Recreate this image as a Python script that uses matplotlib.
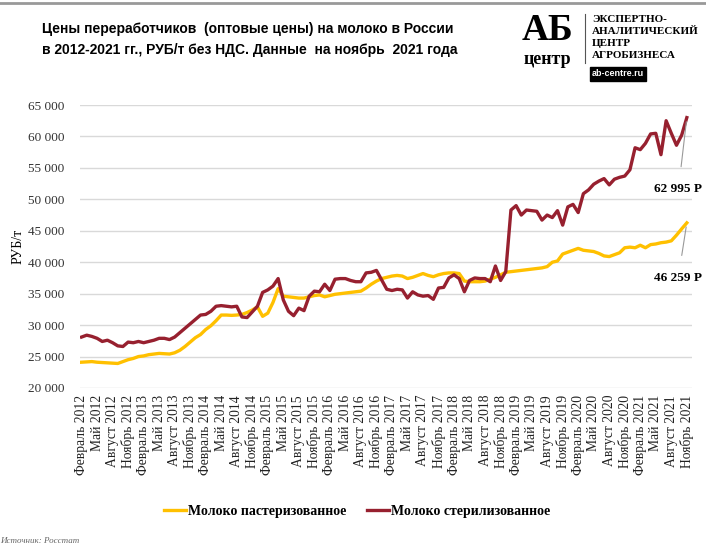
import numpy as np
import matplotlib.pyplot as plt
from matplotlib.patches import Rectangle

# цены, руб/т, февраль 2012 - ноябрь 2021 (по месяцам)
pasteurized = [
    24100, 24150, 24200, 24100, 24050, 24000, 23950, 23900, 24200, 24500, 24700,
    25000, 25100, 25300, 25400, 25500, 25450, 25400, 25600, 26000, 26600, 27300, 28000,
    28500, 29300, 29900, 30700, 31600, 31600, 31550, 31600, 31700, 32000, 32400, 32900,
    31400, 31900, 33600, 35800, 34600, 34500, 34400, 34300, 34300, 34500, 34700, 34800,
    34500, 34700, 34900, 35000, 35100, 35200, 35300, 35400, 35900, 36500, 37000, 37400,
    37600, 37800, 37900, 37800, 37400, 37600, 37900, 38200, 37900, 37700, 38000, 38200,
    38300, 38300, 38200, 37000, 36900, 36900, 36900, 37000, 37300, 37600, 38000, 38400,
    38500, 38600, 38700, 38800, 38900, 39000, 39100, 39300, 40000, 40200, 41300, 41600,
    41900, 42200, 41900, 41800, 41700, 41400, 41000, 40900, 41200, 41500, 42300, 42400,
    42300, 42700, 42300, 42800, 42900, 43100, 43200, 43400, 44300, 45300, 46259,
]
sterilized = [
    28100, 28400, 28200, 27900, 27400, 27600, 27200, 26700, 26600, 27300, 27200,
    27400, 27200, 27400, 27600, 27900, 27900, 27700, 28100, 28800, 29500, 30200, 30900,
    31600, 31700, 32200, 33000, 33100, 33000, 32900, 33000, 31300, 31200, 32100, 33000,
    35200, 35600, 36200, 37400, 34000, 32200, 31500, 32700, 32300, 34600, 35400, 35300,
    36500, 35500, 37300, 37400, 37400, 37100, 36900, 36900, 38300, 38400, 38700, 37200,
    35700, 35500, 35700, 35600, 34300, 35300, 34800, 34600, 34700, 34100, 35900, 36000,
    37500, 38000, 37400, 35300, 37100, 37500, 37400, 37400, 36900, 39400, 37100, 38500,
    48300, 49000, 47500, 48300, 48200, 48100, 46700, 47500, 47100, 48200, 45900, 48800,
    49200, 47900, 50900, 51500, 52400, 52900, 53300, 52300, 53200, 53500, 53700, 54700,
    58200, 57900, 58900, 60400, 60500, 57100, 62500, 60500, 58600, 60200, 62995,
]
years = range(2012, 2022)
tick_months = ['Февраль', 'Май', 'Август', 'Ноябрь']
tick_labels = [f'{m} {y}' for y in years for m in tick_months]

serif = ['Liberation Serif', 'DejaVu Serif']
narrow = ['Liberation Sans Narrow', 'Liberation Sans', 'DejaVu Sans']

x = np.arange(len(pasteurized))

fig = plt.figure(figsize=(7.06, 5.46), dpi=100)
ax = fig.add_axes([80 / 706, 1 - 388 / 546, 612 / 706, 283 / 546])

ax.plot(x, pasteurized, color='#FFC000', lw=2.4, label='Молоко пастеризованное')
ax.plot(x, sterilized, color='#97202F', lw=2.4, label='Молоко стерилизованное')

ax.set_ylim(20000, 65000)
ax.set_xlim(-0.3, 118)
yt = list(range(20000, 65001, 5000))
ax.set_yticks(yt)
ax.set_yticklabels([f'{v:,}'.replace(',', ' ') for v in yt], family=serif, fontsize=9.5, color='#333333')
ax.set_xticks(x[::3])
ax.set_xticklabels(tick_labels, rotation=90, family=serif, fontsize=9.8, color='#222222')
ax.tick_params(length=0)
ax.tick_params(axis='y', pad=11)
ax.tick_params(axis='x', pad=5)
ax.grid(axis='y', color='#d9d9d9', lw=1)
ax.set_axisbelow(True)
for s in ax.spines.values():
    s.set_visible(False)
ax.set_ylabel('РУБ/т', family=serif, fontsize=10, labelpad=3)

# подписи последних значений
ax.annotate('62 995 Р', xy=(x[-1], sterilized[-1]), xytext=(110.6, 51600),
            ha='left', va='center', family=serif, fontsize=9.5, fontweight='bold',
            arrowprops=dict(arrowstyle='-', color='#999999', lw=0.8,
                            relpos=(0.53, 1.0), shrinkA=10, shrinkB=3))
ax.annotate('46 259 Р', xy=(x[-1], pasteurized[-1]), xytext=(110.6, 37500),
            ha='left', va='center', family=serif, fontsize=9.5, fontweight='bold',
            arrowprops=dict(arrowstyle='-', color='#999999', lw=0.8,
                            relpos=(0.53, 1.0), shrinkA=10, shrinkB=3))

fig.legend(loc='center', bbox_to_anchor=(357 / 706, 1 - 511 / 546), ncol=2,
           frameon=False, handlelength=1.6, handletextpad=0.1, columnspacing=1.5,
           prop=dict(family=serif, size=10, weight='bold'))

# заголовок
fig.text(42 / 706, 1 - 29 / 546, 'Цены переработчиков  (оптовые цены) на молоко в России',
         family=narrow, fontsize=10, fontweight='bold', va='center')
fig.text(42 / 706, 1 - 50 / 546, 'в 2012-2021 гг., РУБ/т без НДС. Данные  на ноябрь  2021 года',
         family=narrow, fontsize=10, fontweight='bold', va='center')

# логотип
fig.text(547 / 706, 1 - 30 / 546, 'АБ', family=serif, fontsize=27, fontweight='bold',
         ha='center', va='center')
fig.text(547 / 706, 1 - 59 / 546, 'центр', family=serif, fontsize=13, fontweight='bold',
         ha='center', va='center')
fig.add_artist(plt.Line2D([585 / 706, 585 / 706], [1 - 14 / 546, 1 - 63 / 546],
                          color='#555555', lw=0.8))
for i, line in enumerate(['ЭКСПЕРТНО-', 'АНАЛИТИЧЕСКИЙ', 'ЦЕНТР', 'АГРОБИЗНЕСА']):
    fig.text(592 / 706, 1 - (20 + 12 * i) / 546, line, family=serif, fontsize=8,
             fontweight='bold', va='center')
fig.add_artist(Rectangle((590 / 706, 1 - 81 / 546), 56 / 706, 14 / 546,
                         transform=fig.transFigure, color='black'))
fig.text(618 / 706, 1 - 74 / 546, 'ab-centre.ru', family=narrow, fontsize=6.5,
         fontweight='bold', color='white', ha='center', va='center')

# верхняя рамка
fig.add_artist(plt.Line2D([0, 1], [1 - 3 / 546, 1 - 3 / 546], color='#999999', lw=2))

fig.text(0.0, 1 - 541 / 546, 'Источник: Росстат', family=serif, fontsize=6.5,
         style='italic', color='#666666', va='center')

fig.savefig('out.png', dpi=100)
